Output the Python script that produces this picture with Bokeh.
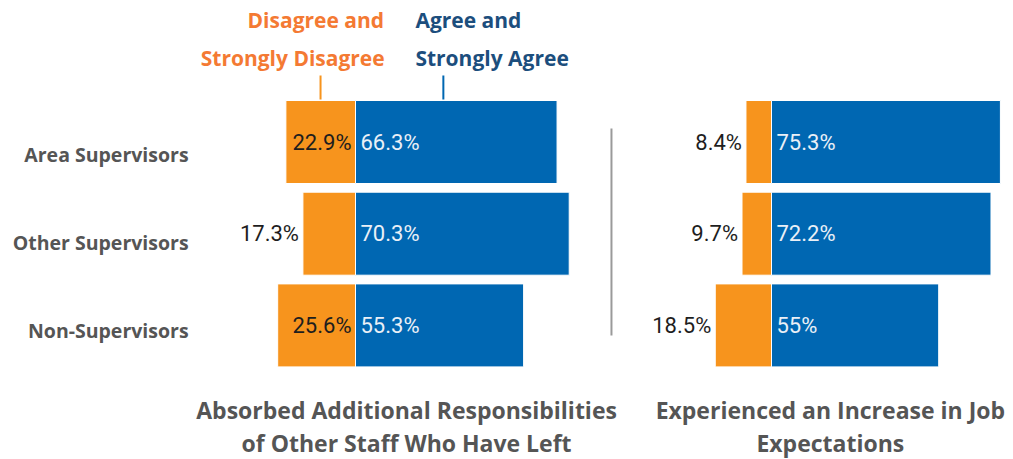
from bokeh.plotting import figure
from bokeh.models import Range1d, ColumnDataSource
from bokeh.core.properties import value
from bokeh.embed import file_html
from bokeh.resources import INLINE

# ---- data ----
categories = ["Area Supervisors", "Other Supervisors", "Non-Supervisors"]
absorbed_disagree = [22.9, 17.3, 25.6]
absorbed_agree = [66.3, 70.3, 55.3]
increase_disagree = [8.4, 9.7, 18.5]
increase_agree = [75.3, 72.2, 55.0]
increase_agree_labels = ["75.3%", "72.2%", "55%"]
panel_titles = [["Absorbed Additional Responsibilities", "of Other Staff Who Have Left"],
                ["Experienced an Increase in Job", "Expectations"]]
legend_disagree = ["Disagree and", "Strongly Disagree"]
legend_agree = ["Agree and", "Strongly Agree"]

# ---- layout constants ----
W, H = 1013, 459
PX_PER_UNIT = 3.04
LEFT_CENTER_PX = 355
X_START = -LEFT_CENTER_PX / PX_PER_UNIT
X_END = (W - LEFT_CENTER_PX) / PX_PER_UNIT
PANEL_OFFSET = 416 / PX_PER_UNIT
ROW0, PITCH, BAR_H = 141.5, 91.7, 83
rows_y = [ROW0 + PITCH * i for i in range(len(categories))]

ORANGE = "#F7941D"
BLUE = "#0067B2"
ORANGE_TXT = "#F47A33"
BLUE_TXT = "#1C4E7D"
GRAY_TXT = "#555555"
DARK_TXT = "#1E1E1E"

p = figure(width=W, height=H, x_range=Range1d(X_START, X_END), y_range=Range1d(H, 0),
           output_backend="svg", toolbar_location=None, min_border=0,
           outline_line_color=None)
p.axis.visible = False
p.grid.visible = False
p.background_fill_color = "white"
p.border_fill_color = "white"


def fmt(v):
    return f"{v:g}%"


for off, dis, agr, agr_lbl in [(0.0, absorbed_disagree, absorbed_agree, [fmt(v) for v in absorbed_agree]),
                               (PANEL_OFFSET, increase_disagree, increase_agree, increase_agree_labels)]:
    src = ColumnDataSource(dict(
        y=rows_y,
        dl=[off - v for v in dis], dr=[off] * len(dis),
        al=[off] * len(agr), ar=[off + v for v in agr],
    ))
    p.hbar(y="y", left="dl", right="dr", height=BAR_H, source=src,
           fill_color=ORANGE, line_color="white", line_width=1)
    p.hbar(y="y", left="al", right="ar", height=BAR_H, source=src,
           fill_color=BLUE, line_color="white", line_width=1)

    # blue labels inside
    p.text(x=[off] * len(agr), y=rows_y, text=agr_lbl, x_offset=5,
           text_align="left", text_baseline="middle", text_color="#EAF0F7",
           text_font=value("Roboto"), text_font_size="22px")

    # orange labels: inside if wide enough, else outside
    inside = [v >= 20 for v in dis]
    xs = [off if ins else off - v for v, ins in zip(dis, inside)]
    p.text(x=xs, y=rows_y, text=[fmt(v) for v in dis], x_offset=-4,
           text_align="right", text_baseline="middle", text_color=DARK_TXT,
           text_font=value("Roboto"), text_font_size="22px")

# category labels
p.text(x=[-54.9] * 3, y=rows_y, text=categories, y_offset=[12, 9, 5],
       text_align="right", text_baseline="middle", text_color=GRAY_TXT,
       text_font=value("Open Sans"), text_font_style="bold", text_font_size="19.5px")

# legend
p.text(x=[9.4, 9.6], y=[19, 57], text=legend_disagree, text_align="right",
       text_baseline="middle", text_color=ORANGE_TXT,
       text_font=value("Open Sans"), text_font_style="bold", text_font_size="21px")
p.text(x=[19.7, 19.7], y=[19, 57], text=legend_agree, text_align="left",
       text_baseline="middle", text_color=BLUE_TXT,
       text_font=value("Open Sans"), text_font_style="bold", text_font_size="21px")
p.segment(x0=[-11.5], y0=[75], x1=[-11.5], y1=[99], line_color=ORANGE, line_width=2)
p.segment(x0=[28.9], y0=[75], x1=[28.9], y1=[99], line_color=BLUE, line_width=2)

# divider
p.segment(x0=[84.2], y0=[128], x1=[84.2], y1=[335], line_color="#9a9a9a", line_width=2)

# panel titles
for cx, lines in zip([16.8, 156.2], panel_titles):
    p.text(x=[cx, cx], y=[409, 442], text=lines, text_align="center",
           text_baseline="middle", text_color=GRAY_TXT,
           text_font=value("Open Sans"), text_font_style="bold", text_font_size="23px")

open("out.html", "w").write(file_html(p, INLINE))
